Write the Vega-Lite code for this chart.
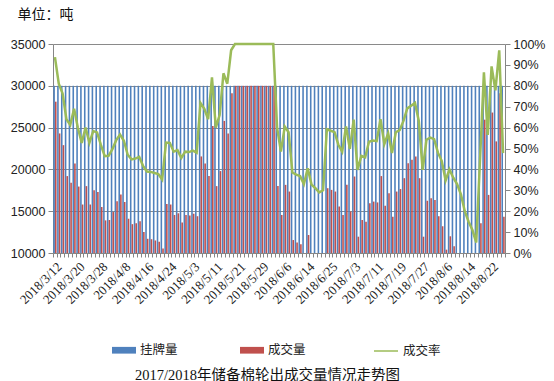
{
  "$schema": "https://vega.github.io/schema/vega-lite/v6.json",
  "width": 452,
  "height": 209,
  "autosize": {"type": "none"},
  "padding": {"left": 53, "top": 44, "right": 49, "bottom": 128},
  "background": "white",
  "config": {
    "view": {"stroke": null},
    "font": "Liberation Sans",
    "axis": {"labelColor": "#222222", "domainColor": "#868686", "tickColor": "#868686"}
  },
  "data": {"values": [
    {"d":"2018/3/12","挂牌量":30000,"成交量":28100,"成交率":0.937},
    {"d":"2018/3/13","挂牌量":30000,"成交量":24300,"成交率":0.81},
    {"d":"2018/3/14","挂牌量":30000,"成交量":22900,"成交率":0.763},
    {"d":"2018/3/15","挂牌量":30000,"成交量":19200,"成交率":0.64},
    {"d":"2018/3/16","挂牌量":30000,"成交量":18400,"成交率":0.613},
    {"d":"2018/3/19","挂牌量":30000,"成交量":20700,"成交率":0.69},
    {"d":"2018/3/20","挂牌量":30000,"成交量":17950,"成交率":0.598},
    {"d":"2018/3/21","挂牌量":30000,"成交量":15800,"成交率":0.527},
    {"d":"2018/3/22","挂牌量":30000,"成交量":18000,"成交率":0.6},
    {"d":"2018/3/23","挂牌量":30000,"成交量":15800,"成交率":0.527},
    {"d":"2018/3/26","挂牌量":30000,"成交量":17500,"成交率":0.583},
    {"d":"2018/3/27","挂牌量":30000,"成交量":17300,"成交率":0.577},
    {"d":"2018/3/28","挂牌量":30000,"成交量":15500,"成交率":0.517},
    {"d":"2018/3/29","挂牌量":30000,"成交量":13900,"成交率":0.463},
    {"d":"2018/3/30","挂牌量":30000,"成交量":13950,"成交率":0.465},
    {"d":"2018/4/2","挂牌量":30000,"成交量":14900,"成交率":0.497},
    {"d":"2018/4/3","挂牌量":30000,"成交量":16200,"成交率":0.54},
    {"d":"2018/4/4","挂牌量":30000,"成交量":17000,"成交率":0.567},
    {"d":"2018/4/8","挂牌量":30000,"成交量":16100,"成交率":0.537},
    {"d":"2018/4/9","挂牌量":30000,"成交量":14100,"成交率":0.47},
    {"d":"2018/4/10","挂牌量":30000,"成交量":13450,"成交率":0.448},
    {"d":"2018/4/11","挂牌量":30000,"成交量":13550,"成交率":0.452},
    {"d":"2018/4/12","挂牌量":30000,"成交量":13800,"成交率":0.46},
    {"d":"2018/4/13","挂牌量":30000,"成交量":12500,"成交率":0.417},
    {"d":"2018/4/16","挂牌量":30000,"成交量":11700,"成交率":0.39},
    {"d":"2018/4/17","挂牌量":30000,"成交量":11650,"成交率":0.388},
    {"d":"2018/4/18","挂牌量":30000,"成交量":11500,"成交率":0.383},
    {"d":"2018/4/19","挂牌量":30000,"成交量":11350,"成交率":0.378},
    {"d":"2018/4/20","挂牌量":30000,"成交量":10550,"成交率":0.352},
    {"d":"2018/4/23","挂牌量":30000,"成交量":15850,"成交率":0.528},
    {"d":"2018/4/24","挂牌量":30000,"成交量":15800,"成交率":0.527},
    {"d":"2018/4/25","挂牌量":30000,"成交量":14550,"成交率":0.485},
    {"d":"2018/4/26","挂牌量":30000,"成交量":14750,"成交率":0.492},
    {"d":"2018/4/27","挂牌量":30000,"成交量":13650,"成交率":0.455},
    {"d":"2018/4/28","挂牌量":30000,"成交量":14550,"成交率":0.485},
    {"d":"2018/5/2","挂牌量":30000,"成交量":14500,"成交率":0.483},
    {"d":"2018/5/3","挂牌量":30000,"成交量":14700,"成交率":0.49},
    {"d":"2018/5/4","挂牌量":30000,"成交量":14400,"成交率":0.48},
    {"d":"2018/5/7","挂牌量":30000,"成交量":21550,"成交率":0.718},
    {"d":"2018/5/8","挂牌量":30000,"成交量":20700,"成交率":0.69},
    {"d":"2018/5/9","挂牌量":30000,"成交量":19200,"成交率":0.64},
    {"d":"2018/5/10","挂牌量":30000,"成交量":25200,"成交率":0.84},
    {"d":"2018/5/11","挂牌量":30000,"成交量":18000,"成交率":0.6},
    {"d":"2018/5/14","挂牌量":30000,"成交量":19800,"成交率":0.66},
    {"d":"2018/5/15","挂牌量":30000,"成交量":25800,"成交率":0.86},
    {"d":"2018/5/16","挂牌量":30000,"成交量":24300,"成交率":0.81},
    {"d":"2018/5/17","挂牌量":30000,"成交量":29100,"成交率":0.97},
    {"d":"2018/5/18","挂牌量":30000,"成交量":30000,"成交率":1},
    {"d":"2018/5/21","挂牌量":30000,"成交量":30000,"成交率":1},
    {"d":"2018/5/22","挂牌量":30000,"成交量":30000,"成交率":1},
    {"d":"2018/5/23","挂牌量":30000,"成交量":30000,"成交率":1},
    {"d":"2018/5/24","挂牌量":30000,"成交量":30000,"成交率":1},
    {"d":"2018/5/25","挂牌量":30000,"成交量":30000,"成交率":1},
    {"d":"2018/5/28","挂牌量":30000,"成交量":30000,"成交率":1},
    {"d":"2018/5/29","挂牌量":30000,"成交量":30000,"成交率":1},
    {"d":"2018/5/30","挂牌量":30000,"成交量":30000,"成交率":1},
    {"d":"2018/5/31","挂牌量":30000,"成交量":30000,"成交率":1},
    {"d":"2018/6/1","挂牌量":30000,"成交量":30000,"成交率":1},
    {"d":"2018/6/4","挂牌量":30000,"成交量":18000,"成交率":0.6},
    {"d":"2018/6/5","挂牌量":30000,"成交量":14550,"成交率":0.485},
    {"d":"2018/6/6","挂牌量":30000,"成交量":18150,"成交率":0.605},
    {"d":"2018/6/7","挂牌量":30000,"成交量":17350,"成交率":0.578},
    {"d":"2018/6/8","挂牌量":30000,"成交量":11550,"成交率":0.385},
    {"d":"2018/6/11","挂牌量":30000,"成交量":11250,"成交率":0.375},
    {"d":"2018/6/12","挂牌量":30000,"成交量":11050,"成交率":0.368},
    {"d":"2018/6/13","挂牌量":30000,"成交量":9900,"成交率":0.33},
    {"d":"2018/6/14","挂牌量":30000,"成交量":12150,"成交率":0.405},
    {"d":"2018/6/15","挂牌量":30000,"成交量":9800,"成交率":0.327},
    {"d":"2018/6/19","挂牌量":30000,"成交量":9300,"成交率":0.31},
    {"d":"2018/6/20","挂牌量":30000,"成交量":8700,"成交率":0.29},
    {"d":"2018/6/21","挂牌量":30000,"成交量":9000,"成交率":0.3},
    {"d":"2018/6/22","挂牌量":30000,"成交量":17750,"成交率":0.592},
    {"d":"2018/6/25","挂牌量":30000,"成交量":17550,"成交率":0.585},
    {"d":"2018/6/26","挂牌量":30000,"成交量":17350,"成交率":0.578},
    {"d":"2018/6/27","挂牌量":30000,"成交量":15550,"成交率":0.518},
    {"d":"2018/6/28","挂牌量":30000,"成交量":14550,"成交率":0.485},
    {"d":"2018/6/29","挂牌量":30000,"成交量":18150,"成交率":0.605},
    {"d":"2018/7/2","挂牌量":30000,"成交量":14950,"成交率":0.498},
    {"d":"2018/7/3","挂牌量":30000,"成交量":19150,"成交率":0.638},
    {"d":"2018/7/4","挂牌量":30000,"成交量":11950,"成交率":0.398},
    {"d":"2018/7/5","挂牌量":30000,"成交量":13950,"成交率":0.465},
    {"d":"2018/7/6","挂牌量":30000,"成交量":13750,"成交率":0.458},
    {"d":"2018/7/9","挂牌量":30000,"成交量":15950,"成交率":0.532},
    {"d":"2018/7/10","挂牌量":30000,"成交量":16150,"成交率":0.538},
    {"d":"2018/7/11","挂牌量":30000,"成交量":16050,"成交率":0.535},
    {"d":"2018/7/12","挂牌量":30000,"成交量":19200,"成交率":0.64},
    {"d":"2018/7/13","挂牌量":30000,"成交量":15650,"成交率":0.522},
    {"d":"2018/7/16","挂牌量":30000,"成交量":17150,"成交率":0.572},
    {"d":"2018/7/17","挂牌量":30000,"成交量":14350,"成交率":0.478},
    {"d":"2018/7/18","挂牌量":30000,"成交量":17350,"成交率":0.578},
    {"d":"2018/7/19","挂牌量":30000,"成交量":17650,"成交率":0.588},
    {"d":"2018/7/20","挂牌量":30000,"成交量":18950,"成交率":0.632},
    {"d":"2018/7/23","挂牌量":30000,"成交量":20750,"成交率":0.692},
    {"d":"2018/7/24","挂牌量":30000,"成交量":21150,"成交率":0.705},
    {"d":"2018/7/25","挂牌量":30000,"成交量":21550,"成交率":0.718},
    {"d":"2018/7/26","挂牌量":30000,"成交量":18950,"成交率":0.632},
    {"d":"2018/7/27","挂牌量":30000,"成交量":11950,"成交率":0.398},
    {"d":"2018/7/30","挂牌量":30000,"成交量":16250,"成交率":0.542},
    {"d":"2018/7/31","挂牌量":30000,"成交量":16550,"成交率":0.552},
    {"d":"2018/8/1","挂牌量":30000,"成交量":16350,"成交率":0.545},
    {"d":"2018/8/2","挂牌量":30000,"成交量":14400,"成交率":0.48},
    {"d":"2018/8/3","挂牌量":30000,"成交量":13200,"成交率":0.44},
    {"d":"2018/8/6","挂牌量":30000,"成交量":10400,"成交率":0.347},
    {"d":"2018/8/7","挂牌量":30000,"成交量":12000,"成交率":0.4},
    {"d":"2018/8/8","挂牌量":30000,"成交量":10800,"成交率":0.36},
    {"d":"2018/8/9","挂牌量":30000,"成交量":9900,"成交率":0.33},
    {"d":"2018/8/10","挂牌量":30000,"成交量":8400,"成交率":0.28},
    {"d":"2018/8/13","挂牌量":30000,"成交量":6000,"成交率":0.2},
    {"d":"2018/8/14","挂牌量":30000,"成交量":4500,"成交率":0.15},
    {"d":"2018/8/15","挂牌量":30000,"成交量":3300,"成交率":0.11},
    {"d":"2018/8/16","挂牌量":30000,"成交量":1500,"成交率":0.05},
    {"d":"2018/8/17","挂牌量":30000,"成交量":13550,"成交率":0.452},
    {"d":"2018/8/20","挂牌量":30000,"成交量":25950,"成交率":0.865},
    {"d":"2018/8/21","挂牌量":30000,"成交量":16950,"成交率":0.565},
    {"d":"2018/8/22","挂牌量":30000,"成交量":26800,"成交率":0.893},
    {"d":"2018/8/23","挂牌量":30000,"成交量":23350,"成交率":0.778},
    {"d":"2018/8/24","挂牌量":30000,"成交量":29100,"成交率":0.97},
    {"d":"2018/8/27","挂牌量":30000,"成交量":14350,"成交率":0.478}
  ]},
  "layer": [
    {
      "transform": [{"fold": ["挂牌量", "成交量"], "as": ["key", "val"]}],
      "mark": {"type": "bar", "clip": true},
      "encoding": {
        "x": {
          "field": "d", "type": "ordinal", "sort": null,
          "scale": {"paddingInner": 0.15, "paddingOuter": 0.08},
          "axis": {
            "labelExpr": "indexof(['2018/3/12','2018/3/20','2018/3/28','2018/4/8','2018/4/16','2018/4/24','2018/5/3','2018/5/11','2018/5/21','2018/5/29','2018/6/6','2018/6/14','2018/6/25','2018/7/3','2018/7/11','2018/7/19','2018/7/27','2018/8/6','2018/8/14','2018/8/22'], datum.value) >= 0 ? datum.value : ''",
            "labelOverlap": false,
            "labelAngle": -45,
            "labelFont": "Liberation Serif",
            "labelFontSize": 13,
            "labelPadding": 3,
            "tickBand": "extent",
            "tickSize": 4,
            "title": "2017/2018年储备棉轮出成交量情况走势图",
            "titleFont": "Liberation Serif, Noto Sans CJK SC",
            "titleFontSize": 14.5,
            "titleFontWeight": "normal",
            "titleColor": "#111111",
            "titleX": 214,
            "titleY": 126,
            "titleAlign": "center",
            "titleBaseline": "alphabetic"
          }
        },
        "xOffset": {"field": "key", "type": "nominal", "sort": ["挂牌量", "成交量"], "scale": {"paddingInner": 0.05}},
        "y": {
          "field": "val", "type": "quantitative",
          "scale": {"domain": [10000, 35000], "zero": false, "nice": false},
          "axis": {
            "values": [10000, 15000, 20000, 25000, 30000, 35000],
            "format": "d",
            "labelFontSize": 12.5,
            "labelPadding": 3,
            "tickSize": 5,
            "grid": true,
            "gridColor": "#8a8a8a",
            "title": "单位：吨",
            "titleAngle": 0,
            "titleX": -36,
            "titleY": -30,
            "titleAlign": "left",
            "titleBaseline": "middle",
            "titleFont": "Noto Sans CJK SC",
            "titleFontSize": 14,
            "titleFontWeight": "normal",
            "titleColor": "#111111"
          }
        },
        "y2": {"datum": 10000},
        "fill": {
          "field": "key", "type": "nominal",
          "scale": {"domain": ["挂牌量", "成交量"], "range": ["#4F81BD", "#C0504D"]},
          "legend": {
            "orient": "none", "legendX": 59, "legendY": 294,
            "direction": "horizontal", "title": null,
            "symbolType": "M-1,-0.28H1V0.28H-1Z", "symbolSize": 576, "symbolStrokeWidth": 0,
            "labelFont": "Noto Sans CJK SC", "labelFontSize": 12.5, "labelColor": "#222222",
            "labelOffset": 4, "columnPadding": 62
          }
        }
      }
    },
    {
      "mark": {"type": "line", "strokeWidth": 2.5},
      "encoding": {
        "x": {"field": "d", "type": "ordinal", "sort": null},
        "y": {
          "field": "成交率", "type": "quantitative",
          "scale": {"domain": [0, 1], "nice": false},
          "axis": {
            "orient": "right",
            "values": [0, 0.1, 0.2, 0.3, 0.4, 0.5, 0.6, 0.7, 0.8, 0.9, 1],
            "format": ".0%",
            "labelFontSize": 12.5,
            "labelPadding": 3,
            "tickSize": 5,
            "grid": false,
            "title": null
          }
        },
        "stroke": {
          "datum": "成交率", "type": "nominal",
          "scale": {"domain": ["成交率"], "range": ["#9BBB59"]},
          "legend": {
            "orient": "none", "legendX": 320, "legendY": 294,
            "title": null, "symbolType": "stroke", "symbolSize": 576, "symbolStrokeWidth": 1.5,
            "labelFont": "Noto Sans CJK SC", "labelFontSize": 12.5, "labelColor": "#222222",
            "labelOffset": 4
          }
        }
      }
    }
  ],
  "resolve": {"scale": {"y": "independent"}}
}
